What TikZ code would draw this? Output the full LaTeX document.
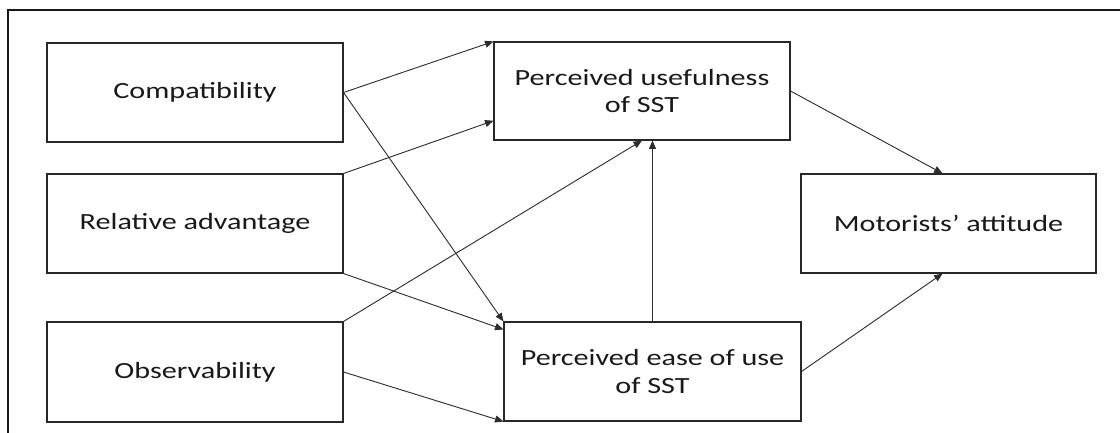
\documentclass[tikz,border=0pt]{standalone}
\usepackage{fontspec}
\setmainfont{Carlito}[FakeStretch=1.3]
\usepackage{tikz}
\usetikzlibrary{
  arrows.meta,
  calc
}
\definecolor{BoxLine}{RGB}{40, 40, 40}
\definecolor{LinkGray}{RGB}{45, 45, 45}
\definecolor{InkBlack}{RGB}{25, 25, 25}
\newlength{\unitpx}
\setlength{\unitpx}{0.025cm}
\tikzset{
    construct/.style={
        rectangle, draw=BoxLine, line width=0.75pt, fill=white,
        minimum width=296\unitpx, minimum height=99\unitpx,
        align=center, text=InkBlack,
        font=\fontsize{16.5}{19.6}\selectfont
    },
    link/.style={
        draw=LinkGray, line width=0.65pt,
        -{Triangle[length=6pt, width=5pt]}
    }
}

\begin{document}
\begin{tikzpicture}[x=0.025cm, y=-0.025cm]
    \useasboundingbox (0,0) rectangle (1120,433);
    % frame of the figure, cut at the right and bottom
    \draw[line width=1.4pt, draw=InkBlack] (8,440) -- (8,10) -- (1130,10);

    % constructs
    \node[construct] (comp) at (195,92.5) {Compatibility};
    \node[construct] (rel) at (195,223.5) {Relative advantage};
    \node[construct, minimum height=100\unitpx] (obs) at (195,372) {Observability};
    \node[construct, minimum height=98\unitpx] (pu) at (642,91) {Perceived usefulness\\of SST};
    \node[construct, minimum width=297\unitpx] (pe) at (652.5,371.5) {Perceived ease of use\\of SST};
    \node[construct, minimum width=295\unitpx] (ma) at (948.5,223.5) {Motorists' attitude};

    % hypotheses
    \draw[link] (comp.east) -- (pu.north west);
    \draw[link] (comp.east) -- (pe.north west);
    \draw[link] (rel.north east) -- ($(pu.south west)!0.2!(pu.north west)$);
    \draw[link] (rel.south east) -- ($(pe.north west)!0.08!(pe.south west)$);
    \draw[link] (obs.north east) -- (pu.south);
    \draw[link] (obs.east) -- (pe.south west);
    \draw[link] (pe.north) -- (pe.north |- pu.south);
    \draw[link] (pu.east) -- ($(ma.north west)!0.48!(ma.north east)$);
    \draw[link] (pe.east) -- ($(ma.south west)!0.48!(ma.south east)$);
\end{tikzpicture}
\end{document}
